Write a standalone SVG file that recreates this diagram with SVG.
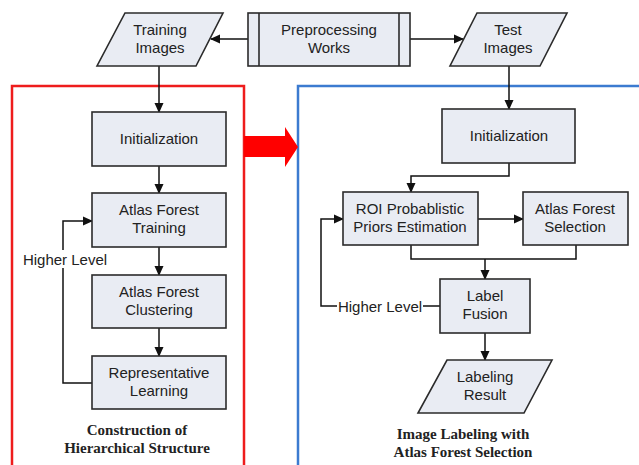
<svg xmlns="http://www.w3.org/2000/svg" width="639" height="465" viewBox="0 0 639 465">
<defs>
<marker id="ah" markerWidth="10" markerHeight="10" refX="9" refY="5" orient="auto" markerUnits="userSpaceOnUse">
<path d="M0,0.5 L10,5 L0,9.5 Z" fill="#111"/>
</marker>
<style>
.n{fill:#e9ecf3;stroke:#2b2b2b;stroke-width:1.6}
.t{font-family:"Liberation Sans",Arial,sans-serif;font-size:15px;fill:#222;text-anchor:middle}
.c{fill:none;stroke:#111;stroke-width:1.5}
.a{marker-end:url(#ah)}
.ttl{font-family:"Liberation Serif","Times New Roman",serif;font-size:15px;font-weight:bold;fill:#222;text-anchor:middle}
</style>
</defs>
<rect width="639" height="465" fill="#fff"/>
<g id="regions">
<rect x="12" y="86" width="232" height="390" fill="none" stroke="#ee1c1c" stroke-width="2.5"/>
<rect x="298" y="86" width="360" height="390" fill="none" stroke="#3c7bd0" stroke-width="2.5"/>
<path d="M244,136 L285,136 L285,127 L298,147 L285,167 L285,157 L244,157 Z" fill="#ff0000"/>
</g>
<g id="connectors">
<path class="c a" d="M248,39 L211,39"/>
<path class="c a" d="M410,39 L463,39"/>
<path class="c a" d="M159,66 L159,112"/>
<path class="c a" d="M159,166 L159,193"/>
<path class="c a" d="M159,247 L159,275"/>
<path class="c a" d="M159,328 L159,356"/>
<path class="c a" d="M92,383 L63,383 L63,221 L92,221"/>
<path class="c a" d="M509,66 L509,109"/>
<path class="c a" d="M509,163 L509,176 L411,176 L411,192"/>
<path class="c a" d="M478,219 L523,219"/>
<path class="c" d="M411,245 L411,259 L576,259 L576,245"/>
<path class="c a" d="M485,259 L485,279"/>
<path class="c a" d="M440,306 L321,306 L321,219 L343,219"/>
<path class="c a" d="M485,333 L485,360"/>
</g>
<g id="training-images">
<polygon class="n" points="125,13 223,13 196,66 97,66"/>
<text class="t" x="160" y="35">Training</text>
<text class="t" x="160" y="53">Images</text>
</g>
<g id="preprocessing">
<rect class="n" x="248" y="13" width="162" height="53"/>
<line x1="259" y1="13" x2="259" y2="66" stroke="#2b2b2b" stroke-width="1.6"/>
<line x1="399" y1="13" x2="399" y2="66" stroke="#2b2b2b" stroke-width="1.6"/>
<text class="t" x="329" y="35">Preprocessing</text>
<text class="t" x="329" y="53">Works</text>
</g>
<g id="test-images">
<polygon class="n" points="477,13 567,13 540,66 450,66"/>
<text class="t" x="508" y="35">Test</text>
<text class="t" x="508" y="53">Images</text>
</g>
<g id="init-left">
<rect class="n" x="92" y="112" width="134" height="54"/>
<text class="t" x="159" y="144">Initialization</text>
</g>
<g id="af-training">
<rect class="n" x="92" y="193" width="134" height="54"/>
<text class="t" x="159" y="215">Atlas Forest</text>
<text class="t" x="159" y="233">Training</text>
</g>
<g id="af-clustering">
<rect class="n" x="92" y="275" width="134" height="53"/>
<text class="t" x="159" y="297">Atlas Forest</text>
<text class="t" x="159" y="315">Clustering</text>
</g>
<g id="repr-learning">
<rect class="n" x="92" y="356" width="134" height="53"/>
<text class="t" x="159" y="378">Representative</text>
<text class="t" x="159" y="396">Learning</text>
</g>
<g id="higher-level-left">
<rect x="22" y="250" width="86" height="18" fill="#fff"/>
<text class="t" x="65" y="265">Higher Level</text>
</g>
<g id="init-right">
<rect class="n" x="442" y="109" width="133" height="54"/>
<text class="t" x="509" y="141">Initialization</text>
</g>
<g id="roi">
<rect class="n" x="343" y="192" width="135" height="53"/>
<text class="t" x="410" y="214">ROI Probablistic</text>
<text class="t" x="410" y="232">Priors Estimation</text>
</g>
<g id="af-selection">
<rect class="n" x="523" y="192" width="105" height="53"/>
<text class="t" x="575" y="214">Atlas Forest</text>
<text class="t" x="575" y="232">Selection</text>
</g>
<g id="label-fusion">
<rect class="n" x="440" y="279" width="90" height="54"/>
<text class="t" x="485" y="301">Label</text>
<text class="t" x="485" y="319">Fusion</text>
</g>
<g id="higher-level-right">
<rect x="337" y="297" width="86" height="18" fill="#fff"/>
<text class="t" x="380" y="312">Higher Level</text>
</g>
<g id="labeling-result">
<polygon class="n" points="447,360 552,360 524,413 418,413"/>
<text class="t" x="485" y="382">Labeling</text>
<text class="t" x="485" y="400">Result</text>
</g>
<g id="titles">
<text class="ttl" x="137" y="435">Construction of</text>
<text class="ttl" x="137" y="453">Hierarchical Structure</text>
<text class="ttl" x="463" y="439">Image Labeling with</text>
<text class="ttl" x="463" y="457">Atlas Forest Selection</text>
</g>
</svg>
